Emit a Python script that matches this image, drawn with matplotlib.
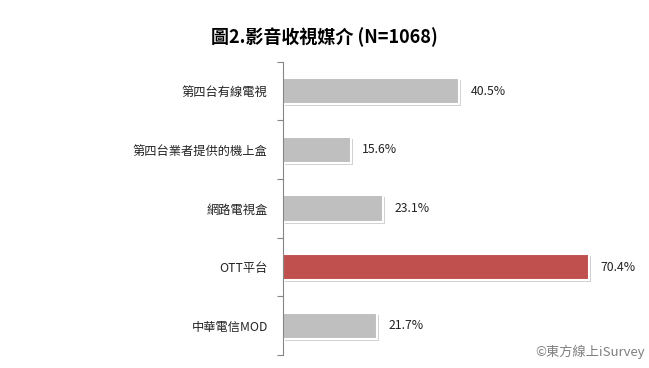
import matplotlib.pyplot as plt
import matplotlib.patheffects as pe
import numpy as np

plt.rcParams['font.family'] = ['Noto Sans CJK TC', 'DejaVu Sans']

categories = ["第四台有線電視", "第四台業者提供的機上盒", "網路電視盒", "OTT平台", "中華電信MOD"]
values = [40.5, 15.6, 23.1, 70.4, 21.7]
colors = ["#BFBFBF", "#BFBFBF", "#BFBFBF", "#C0504D", "#BFBFBF"]
title = "圖2.影音收視媒介 (N=1068)"
credit = "©東方線上iSurvey"

fig = plt.figure(figsize=(6.49, 3.68), dpi=100)
ax = fig.add_axes([0.436, 0.035, 0.536, 0.797])

y = np.arange(len(categories))
bars = ax.barh(y, values, height=0.45, color=colors, edgecolor="white", linewidth=1.5)
for b in bars:
    b.set_path_effects([pe.SimplePatchShadow(offset=(1.5, -1.5), shadow_rgbFace="#9a9a9a", alpha=0.45),
                        pe.Normal()])

for yi, v in zip(y, values):
    ax.text(v + 2.6, yi, f"{v}%", va="center", ha="left", fontsize=8.8, color="#222222")

ax.set_xlim(0, 80)
ax.set_ylim(len(categories) - 0.5, -0.5)
ax.set_yticks(y)
ax.set_yticklabels(categories, fontsize=8.8, color="#222222")
ax.set_yticks(np.arange(-0.5, len(categories)), minor=True)
ax.tick_params(axis="y", which="major", length=0, pad=11)
ax.tick_params(axis="y", which="minor", length=4, color="#868686", width=0.8)
ax.set_xticks([])
for s in ("top", "right", "bottom"):
    ax.spines[s].set_visible(False)
ax.spines["left"].set_color("#868686")
ax.spines["left"].set_linewidth(0.8)

fig.text(0.5, 0.9, title, ha="center", va="center", fontsize=13, fontweight="bold")
fig.text(0.993, 0.045, credit, ha="right", va="center", fontsize=9.5, color="#7f7f7f")

fig.savefig("out.png", dpi=100)
